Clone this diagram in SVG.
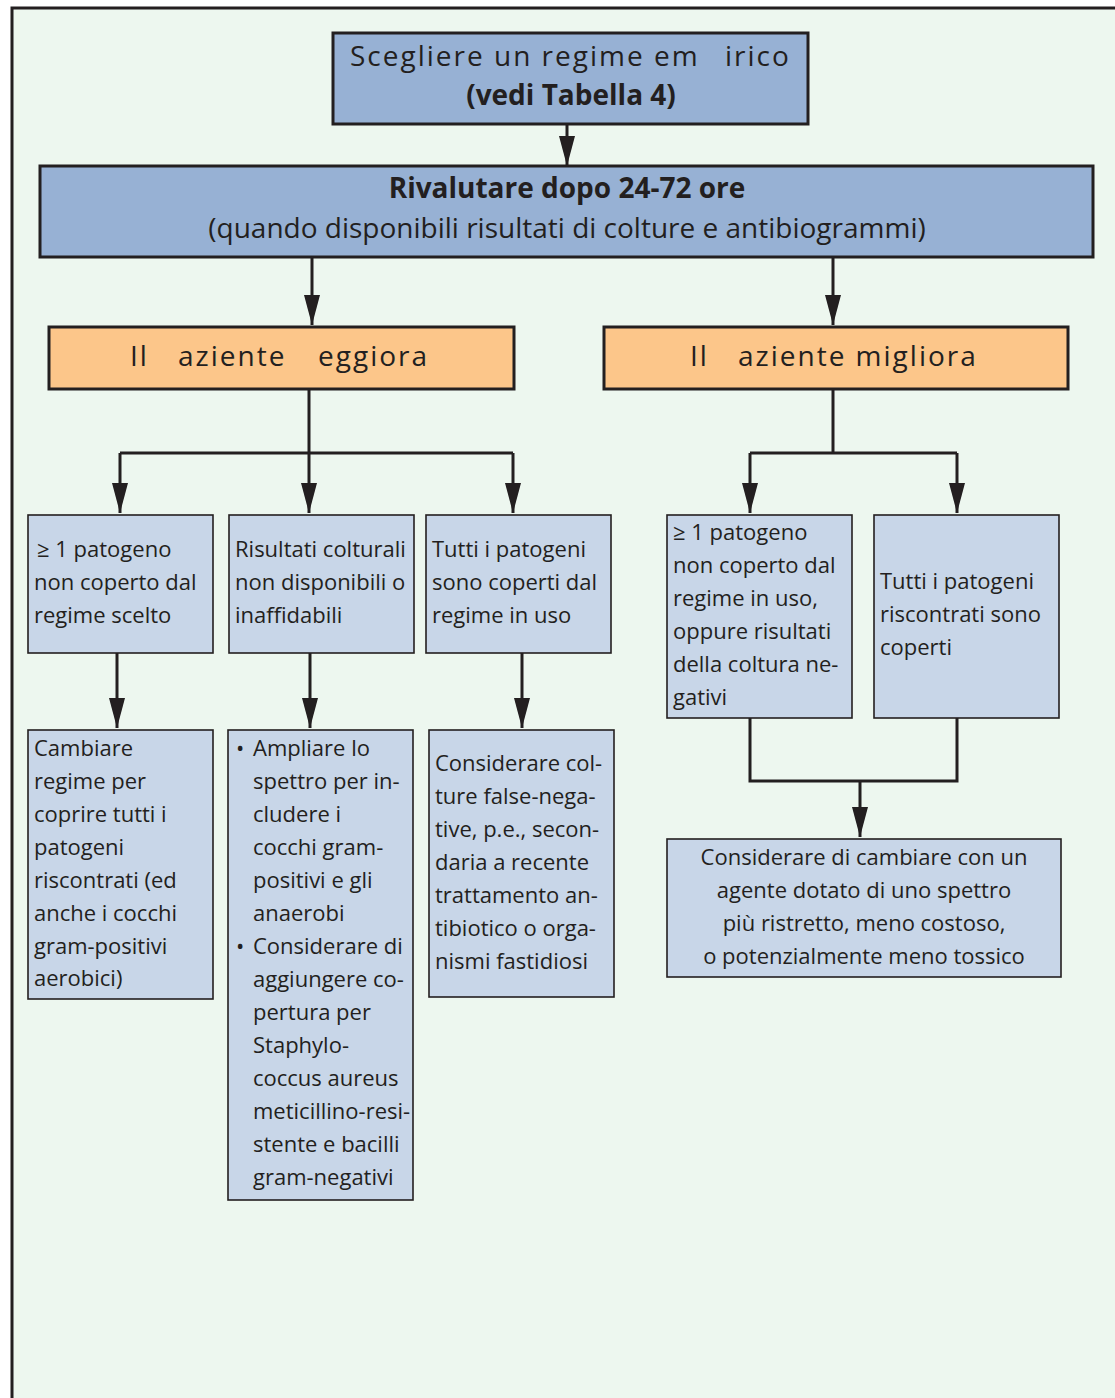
<svg xmlns="http://www.w3.org/2000/svg" width="1115" height="1398" viewBox="0 0 1115 1398">
  <style>
    text { font-family: "Open Sans", "Noto Sans", "Liberation Sans", sans-serif; fill: #231F20; }
    .big { stroke: #231F20; stroke-width: 3; }
    .small { stroke: #231F20; stroke-width: 1.6; fill: #C8D6E8; }
    .blue { fill: #97B1D4; }
    .orange { fill: #FCC68A; }
    .t28 { font-size: 28px; }
    .wide { letter-spacing: 2px; }
    .t21 { font-size: 22px; }
    .b { font-weight: bold; }
    .mid { text-anchor: middle; }
    .link { fill: none; stroke: #231F20; stroke-width: 3; }
    .arrow { marker-end: url(#head); }
  </style>
  <defs>
    <marker id="head" viewBox="0 -8 30 16" markerWidth="30" markerHeight="16" refX="30" refY="0" markerUnits="userSpaceOnUse" orient="auto">
      <path d="M0,-8 L30,0 L0,8 Z" fill="#231F20"/>
    </marker>
  </defs>

  <!-- page and frame -->
  <rect x="0" y="0" width="1115" height="1398" fill="#FFFFFF"/>
  <rect x="12" y="8" width="1103" height="1390" fill="#EDF7EF"/>
  <path d="M12,1398 V8 H1115" fill="none" stroke="#231F20" stroke-width="3"/>

  <!-- connectors -->
  <g id="connectors">
    <path class="link arrow" d="M567,124 V166"/>
    <path class="link arrow" d="M312,257 V325"/>
    <path class="link arrow" d="M833,257 V325"/>
    <path class="link" d="M309,389 V453"/>
    <path class="link" d="M120,453 H513"/>
    <path class="link arrow" d="M120,453 V513"/>
    <path class="link arrow" d="M309,453 V513"/>
    <path class="link arrow" d="M513,453 V513"/>
    <path class="link" d="M833,389 V453"/>
    <path class="link" d="M750,453 H957"/>
    <path class="link arrow" d="M750,453 V513"/>
    <path class="link arrow" d="M957,453 V513"/>
    <path class="link arrow" d="M117,653 V728"/>
    <path class="link arrow" d="M310,653 V728"/>
    <path class="link arrow" d="M522,653 V728"/>
    <path class="link" d="M750,718 V781 H957 V718"/>
    <path class="link arrow" d="M860,781 V837"/>
  </g>

  <!-- start -->
  <g id="start">
    <rect class="big blue" x="333" y="33" width="475" height="91"/>
    <text class="t28 wide" y="66"><tspan x="350">Scegliere un regime em</tspan><tspan x="725">irico</tspan></text>
    <text class="t28 b mid" x="571" y="105">(vedi Tabella 4)</text>
  </g>

  <!-- reassess -->
  <g id="reassess">
    <rect class="big blue" x="40" y="166" width="1053" height="91"/>
    <text class="t28 b mid" x="567" y="198">Rivalutare dopo 24-72 ore</text>
    <text class="t28 mid" x="567" y="238">(quando disponibili risultati di colture e antibiogrammi)</text>
  </g>

  <!-- patient worsens -->
  <g id="worse">
    <rect class="big orange" x="49" y="327" width="465" height="62"/>
    <text class="t28 wide" y="366"><tspan x="130">Il</tspan><tspan x="178">aziente</tspan><tspan x="318">eggiora</tspan></text>
  </g>

  <!-- patient improves -->
  <g id="better">
    <rect class="big orange" x="604" y="327" width="464" height="62"/>
    <text class="t28 wide" y="366"><tspan x="690">Il</tspan><tspan x="738">aziente migliora</tspan></text>
  </g>

  <g id="w1">
    <rect class="small" x="28" y="515" width="185" height="138"/>
    <text class="t21"><tspan x="37" y="557">≥ 1 patogeno</tspan><tspan x="34" y="590">non coperto dal</tspan><tspan x="34" y="623">regime scelto</tspan></text>
  </g>
  <g id="w2">
    <rect class="small" x="229" y="515" width="185" height="138"/>
    <text class="t21"><tspan x="235" y="557">Risultati colturali</tspan><tspan x="235" y="590">non disponibili o</tspan><tspan x="235" y="623">inaffidabili</tspan></text>
  </g>
  <g id="w3">
    <rect class="small" x="426" y="515" width="185" height="138"/>
    <text class="t21"><tspan x="432" y="557">Tutti i patogeni</tspan><tspan x="432" y="590">sono coperti dal</tspan><tspan x="432" y="623">regime in uso</tspan></text>
  </g>

  <g id="b1">
    <rect class="small" x="667" y="515" width="185" height="203"/>
    <text class="t21"><tspan x="673" y="540">≥ 1 patogeno</tspan><tspan x="673" y="573">non coperto dal</tspan><tspan x="673" y="606">regime in uso,</tspan><tspan x="673" y="639">oppure risultati</tspan><tspan x="673" y="672">della coltura ne-</tspan><tspan x="673" y="705">gativi</tspan></text>
  </g>
  <g id="b2">
    <rect class="small" x="874" y="515" width="185" height="203"/>
    <text class="t21"><tspan x="880" y="589">Tutti i patogeni</tspan><tspan x="880" y="622">riscontrati sono</tspan><tspan x="880" y="655">coperti</tspan></text>
  </g>

  <g id="w1a">
    <rect class="small" x="28" y="730" width="185" height="269"/>
    <text class="t21"><tspan x="34" y="756">Cambiare</tspan><tspan x="34" y="789">regime per</tspan><tspan x="34" y="822">coprire tutti i</tspan><tspan x="34" y="855">patogeni</tspan><tspan x="34" y="888">riscontrati (ed</tspan><tspan x="34" y="921">anche i cocchi</tspan><tspan x="34" y="954">gram-positivi</tspan><tspan x="34" y="986">aerobici)</tspan></text>
  </g>
  <g id="w2a">
    <rect class="small" x="228" y="730" width="185" height="470"/>
    <text class="t21">
      <tspan x="236" y="756">•</tspan><tspan x="253" y="756">Ampliare lo</tspan>
      <tspan x="253" y="789">spettro per in-</tspan>
      <tspan x="253" y="822">cludere i</tspan>
      <tspan x="253" y="855">cocchi gram-</tspan>
      <tspan x="253" y="888">positivi e gli</tspan>
      <tspan x="253" y="921">anaerobi</tspan>
      <tspan x="236" y="954">•</tspan><tspan x="253" y="954">Considerare di</tspan>
      <tspan x="253" y="987">aggiungere co-</tspan>
      <tspan x="253" y="1020">pertura per</tspan>
      <tspan x="253" y="1053">Staphylo-</tspan>
      <tspan x="253" y="1086">coccus aureus</tspan>
      <tspan x="253" y="1119">meticillino-resi-</tspan>
      <tspan x="253" y="1152">stente e bacilli</tspan>
      <tspan x="253" y="1185">gram-negativi</tspan>
    </text>
  </g>
  <g id="w3a">
    <rect class="small" x="429" y="730" width="185" height="267"/>
    <text class="t21"><tspan x="435" y="771">Considerare col-</tspan><tspan x="435" y="804">ture false-nega-</tspan><tspan x="435" y="837">tive, p.e., secon-</tspan><tspan x="435" y="870">daria a recente</tspan><tspan x="435" y="903">trattamento an-</tspan><tspan x="435" y="936">tibiotico o orga-</tspan><tspan x="435" y="969">nismi fastidiosi</tspan></text>
  </g>

  <g id="narrow">
    <rect class="small" x="667" y="839" width="394" height="138"/>
    <text class="t21 mid"><tspan x="864" y="865">Considerare di cambiare con un</tspan><tspan x="864" y="898">agente dotato di uno spettro</tspan><tspan x="864" y="931">più ristretto, meno costoso,</tspan><tspan x="864" y="964">o potenzialmente meno tossico</tspan></text>
  </g>
</svg>
